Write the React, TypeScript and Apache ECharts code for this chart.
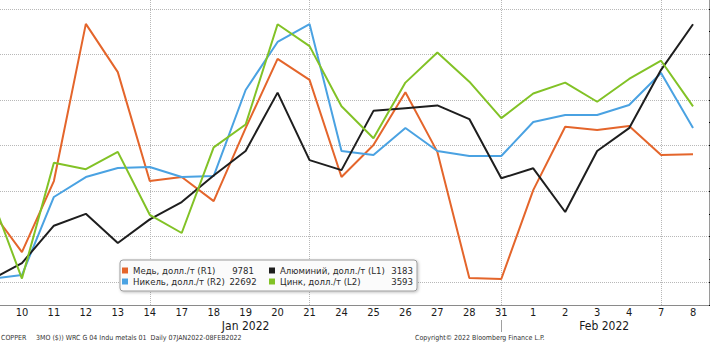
import React, { useEffect, useRef } from 'react';
import * as echarts from 'echarts';

const dates = ['2022-01-07','2022-01-10','2022-01-11','2022-01-12','2022-01-13','2022-01-14','2022-01-17','2022-01-18','2022-01-19','2022-01-20','2022-01-21','2022-01-24','2022-01-25','2022-01-26','2022-01-27','2022-01-28','2022-01-31','2022-02-01','2022-02-02','2022-02-03','2022-02-04','2022-02-07','2022-02-08'];

const copperName = 'Медь, долл./т (R1)';
const nickelName = 'Никель, долл./т (R2)';
const aluminiumName = 'Алюминий, долл./т (L1)';
const zincName = 'Цинк, долл./т (L2)';

const copper = [9661, 9566, 9722, 10067, 9961, 9722, 9731, 9678, 9838, 9990, 9944, 9731, 9801, 9917, 9786, 9509, 9507, 9702, 9841, 9834, 9843, 9779, 9781];
const nickel = [21035, 21079, 21935, 22154, 22253, 22264, 22154, 22165, 23109, 23636, 23833, 22440, 22396, 22692, 22440, 22385, 22385, 22758, 22835, 22835, 22944, 23296, 22692];
const aluminium = [2902, 2921, 2962, 2975, 2943, 2969, 2988, 3017, 3044, 3108, 3034, 3023, 3088, 3091, 3094, 3079, 3014, 3025, 2977, 3044, 3069, 3133, 3183];
const zinc = [3498, 3404, 3531, 3524, 3543, 3474, 3454, 3548, 3573, 3683, 3659, 3593, 3558, 3619, 3652, 3620, 3580, 3607, 3619, 3598, 3623, 3643, 3593];

const weekGridDates = ['2022-01-14', '2022-01-21', '2022-01-31', '2022-02-07'];
const monthLabelDates = ['2022-01-19', '2022-02-03'];
const monthLabels = ['Jan 2022', 'Feb 2022'];
const monthBoundaryDate = '2022-01-31';

const footerLeft1 = 'COPPER';
const footerLeft2 = '3MO ($)) WRC G 04 Indu metals 01  Daily 07JAN2022-08FEB2022';
const footerRight = 'Copyright© 2022 Bloomberg Finance L.P.';

const FONT = '"DejaVu Sans Condensed", "Liberation Sans Narrow", "DejaVu Sans", sans-serif';
const COLORS = { copper: '#e4652b', nickel: '#4aa2e2', aluminium: '#1e1e1e', zinc: '#82c226' };

export default function App() {
  const ref = useRef<HTMLDivElement>(null);
  useEffect(() => {
    if (!ref.current) return;
    const chart = echarts.init(ref.current, null, { renderer: 'svg' });
    const names = [copperName, nickelName, aluminiumName, zincName];
    const lasts = [copper, nickel, aluminium, zinc].map((a) => a[a.length - 1]);
    const richBase = { fontSize: 9.5, fontFamily: FONT, color: '#2a2a2a', lineHeight: 11 };
    const hiddenAxis = (min: number, max: number, position: string) => ({
      type: 'value', min, max, position, show: false, splitLine: { show: false },
    });
    const lineSeries = (name: string, data: number[], color: string, yAxisIndex: number, extra: any = {}) => ({
      name, type: 'line', data, yAxisIndex, symbol: 'none', color,
      lineStyle: { color, width: 2 }, ...extra,
    });
    chart.setOption({
      animation: false,
      grid: { left: 0, top: 0, right: 1, bottom: 38 },
      xAxis: [
        {
          type: 'category', data: dates, boundaryGap: true,
          axisLine: { show: true, lineStyle: { color: '#8a8a8a', width: 1 } },
          axisTick: { show: false },
          splitLine: { show: false },
          axisLabel: {
            interval: (i: number) => i > 0, margin: 2, fontSize: 11, fontFamily: FONT, color: '#1a1a1a',
            formatter: (v: string) => String(Number(v.slice(8))),
          },
        },
        {
          type: 'category', data: dates, boundaryGap: true, position: 'bottom', offset: 15,
          axisLine: { show: false },
          axisTick: {
            show: true, alignWithLabel: true, length: 12,
            interval: (i: number, v: string) => v === monthBoundaryDate,
            lineStyle: { color: '#a0a0a0' },
          },
          splitLine: { show: false },
          axisLabel: {
            margin: 0, fontSize: 12, fontFamily: FONT, color: '#1a1a1a',
            interval: (i: number, v: string) => monthLabelDates.includes(v),
            formatter: (v: string) => {
              const k = monthLabelDates.indexOf(v);
              if (k < 0) return '';
              return k === 1 ? `{f|${monthLabels[k]}}` : monthLabels[k];
            },
            rich: { f: { fontSize: 12, fontFamily: FONT, color: '#1a1a1a', padding: [0, 0, 0, 14] } },
          },
        },
      ],
      yAxis: [
        {
          type: 'value', min: 9450, max: 10150, interval: 50, position: 'right',
          axisLine: { show: true, lineStyle: { color: '#9a9a9a' } },
          axisTick: { show: true, inside: false, length: 4, lineStyle: { color: '#000' } },
          axisLabel: { show: false },
          splitLine: { show: true, lineStyle: { color: ['rgba(0,0,0,0)', '#b8b8b8'], type: 'dotted', width: 1 } },
        },
        hiddenAxis(20750, 24250, 'right'),
        hiddenAxis(2875, 3225, 'left'),
        hiddenAxis(3375, 3725, 'left'),
      ],
      legend: {
        orient: 'vertical', left: 146, top: 274, height: 32,
        itemWidth: 6, itemHeight: 6, itemGap: 0, icon: 'rect',
        padding: [5, 4, 4, 2],
        backgroundColor: '#fbfbfb', borderColor: '#9c9c9c', borderWidth: 1, borderRadius: 3,
        shadowBlur: 3, shadowColor: 'rgba(0,0,0,0.25)', shadowOffsetX: 1, shadowOffsetY: 1,
        selectedMode: false,
        data: names,
        textStyle: {
          ...richBase,
          rich: {
            a: { ...richBase, width: 96 },
            b: { ...richBase, width: 28, align: 'right' },
            s: { ...richBase, width: 12 },
            c: { ...richBase, width: 107 },
            d: { ...richBase, width: 26, align: 'right' },
          },
        },
        formatter: (name: string) => {
          const i = names.indexOf(name);
          return i < 2 ? `{a|${name}}{b|${lasts[i]}}{s| }` : `{c|${name}}{d|${lasts[i]}}`;
        },
      },
      graphic: [
        { type: 'text', x: 27, y: 352, silent: true, style: { text: footerLeft1, fontSize: 7, fontFamily: FONT, fill: '#333', verticalAlign: 'middle' } },
        { type: 'text', x: 62, y: 352, silent: true, style: { text: footerLeft2, fontSize: 7, fontFamily: FONT, fill: '#333', verticalAlign: 'middle' } },
        { type: 'text', x: 441, y: 352, silent: true, style: { text: footerRight, fontSize: 7, fontFamily: FONT, fill: '#333', verticalAlign: 'middle' } },
      ],
      series: [
        lineSeries(copperName, copper, COLORS.copper, 0, {
          markLine: {
            silent: true, symbol: ['none', 'none'], z: 1, animation: false,
            label: { show: false },
            lineStyle: { color: '#b8b8b8', type: 'dotted', width: 1 },
            data: weekGridDates.map((d) => ({ xAxis: d })),
          },
        }),
        lineSeries(nickelName, nickel, COLORS.nickel, 1),
        lineSeries(aluminiumName, aluminium, COLORS.aluminium, 2),
        lineSeries(zincName, zinc, COLORS.zinc, 3),
      ],
    });
    return () => chart.dispose();
  }, []);
  return (
    <div style={{ position: 'absolute', left: 0, top: 0, width: 710, height: 343, overflow: 'hidden', background: '#fff' }}>
      <div ref={ref} style={{ position: 'absolute', left: -26, top: -14, width: 736, height: 357 }} />
    </div>
  );
}
